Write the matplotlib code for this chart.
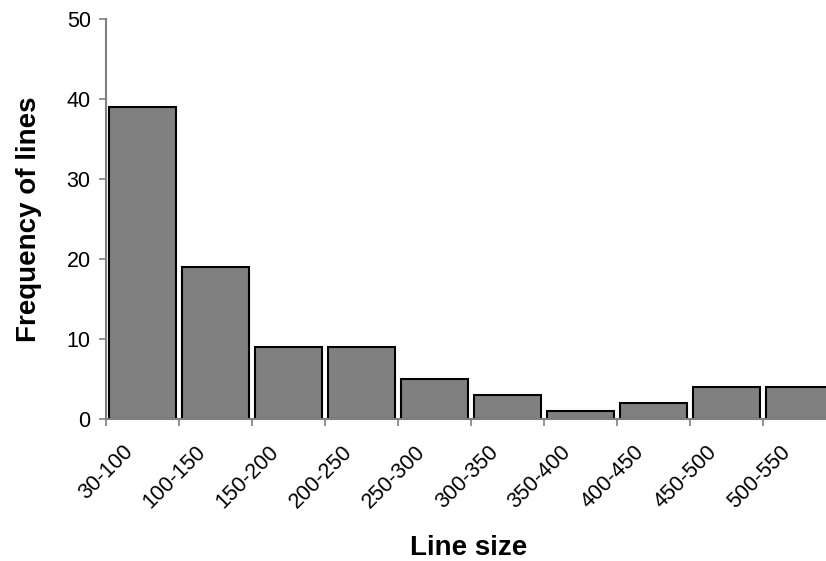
import matplotlib.pyplot as plt
import matplotlib.transforms as mtransforms
import numpy as np

plt.rcParams['font.family'] = ['Liberation Sans', 'DejaVu Sans']

# line size bins and how many lines fall in each
bins = ['30-100', '100-150', '150-200', '200-250', '250-300',
        '300-350', '350-400', '400-450', '450-500', '500-550']
counts = [39, 19, 9, 9, 5, 3, 1, 2, 4, 4]

fig = plt.figure(figsize=(8.26, 5.61), dpi=100)
# axes runs a bit past the right edge, like the original
ax = fig.add_axes([0.1283, 0.2531, 0.8838, 0.7130])

x = np.arange(len(bins))
ax.bar(x, counts, width=0.93, color='#808080', edgecolor='black', linewidth=1.5)

ax.set_xlim(-0.5, len(bins) - 0.5)
ax.set_ylim(0, 50)
ax.set_yticks(range(0, 51, 10))

# tick marks between bars, labels under each bar
ax.set_xticks(x)
ax.set_xticklabels(bins, rotation=45, ha='right', rotation_mode='anchor', fontsize=15.5)
ax.set_xticks(np.arange(len(bins)) - 0.5, minor=True)
ax.tick_params(axis='x', which='major', length=0, pad=14)
ax.tick_params(axis='x', which='minor', length=5, width=1.2, color='#808080')
ax.tick_params(axis='y', length=5, width=1.2, color='#808080', labelsize=15.5, pad=6)

# nudge the rotated labels left so they end just before the bar centre
shift = mtransforms.ScaledTranslation(-0.20, -0.03, fig.dpi_scale_trans)
for lab in ax.get_xticklabels():
    lab.set_transform(lab.get_transform() + shift)

for side in ['top', 'right']:
    ax.spines[side].set_visible(False)
for side in ['left', 'bottom']:
    ax.spines[side].set_color('#808080')
    ax.spines[side].set_linewidth(1.5)

ax.set_xlabel('Line size', fontsize=20, fontweight='bold')
ax.set_ylabel('Frequency of lines', fontsize=20, fontweight='bold')
ax.xaxis.set_label_coords(0.497, -0.29)
ax.yaxis.set_label_coords(-0.088, 0.5)

fig.savefig('out.png', dpi=100)
